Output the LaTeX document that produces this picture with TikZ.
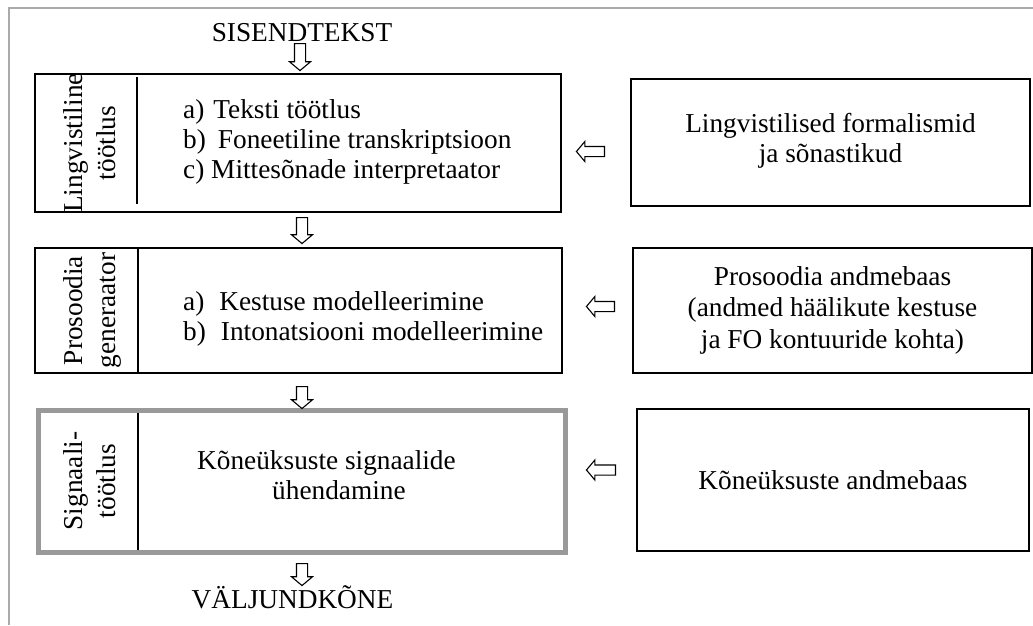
\documentclass[tikz,border=0pt]{standalone}
\usepackage{fontspec}
\setmainfont{Liberation Serif}
\usetikzlibrary{shapes.arrows}
\definecolor{framegray}{RGB}{170,170,170}
\definecolor{boxgray}{RGB}{153,153,153}
\begin{document}
\begin{tikzpicture}[x=1pt,y=-1pt,
  txt/.style={font=\fontsize{27.3}{30}\selectfont, inner sep=0pt},
  lab/.style={font=\fontsize{27.3}{33}\selectfont, inner sep=0pt, rotate=90, align=center},
  blk/.style={draw=black, line width=1.7pt, rectangle, inner sep=0pt, anchor=center},
  divline/.style={draw=black, line width=1.5pt},
  darr/.style={single arrow, draw=black, line width=1.1pt, fill=white, inner sep=5pt,
    single arrow head extend=5pt, single arrow tip angle=100, shape border rotate=270, anchor=tail},
  larr/.style={single arrow, draw=black, line width=1.1pt, fill=white, inner sep=4.5pt,
    single arrow head extend=5pt, single arrow tip angle=100, shape border rotate=180, anchor=tail}
]
\useasboundingbox (0,0) rectangle (1033,625);
% outer frame (top and left edges only)
\draw[framegray, line width=1.6pt] (9,625) -- (9,8) -- (1033,8);

% left boxes
\node[blk, minimum width=526pt, minimum height=138pt] (b1) at (298,143) {};
\node[blk, minimum width=527pt, minimum height=125pt] (b2) at (298.5,310.5) {};
\node[blk, draw=boxgray, line width=5pt, minimum width=527.5pt, minimum height=142pt] (b3) at (301.75,481.5) {};

% dividers
\coordinate (d1t) at (137,77);  \coordinate (d1b) at (137,204);
\coordinate (d2t) at (138,248); \coordinate (d2b) at (138,374);
\coordinate (d3t) at (138,413); \coordinate (d3b) at (138,550);
\draw[divline] (d1t) -- (d1b);
\draw[divline] (d2t) -- (d2b);
\draw[divline] (d3t) -- (d3b);

% rotated labels
\node[lab] (lab1) at (89.2,143) {Lingvistiline\\töötlus};
\node[lab] (lab2) at (92,310.5) {Prosoodia\\generaator};
\node[lab] (lab3) at (89.2,481) {Signaali-\\töötlus};

% main texts (anchored at the baseline of their last line)
\node[txt, align=left, anchor=base west] (t1) at (183,178)
  {a)\hspace{9pt}Teksti töötlus\\b)\hspace{12pt}Foneetiline transkriptsioon\\c) Mittesõnade interpretaator};
\node[txt, align=left, anchor=base west] (t2) at (183,340)
  {a)\hspace{15pt}Kestuse modelleerimine\\b)\hspace{15pt}Intonatsiooni modelleerimine};
\node[txt, align=left, anchor=base west] (t3) at (197,499)
  {Kõneüksuste signaalide\\\hspace*{75pt}ühendamine};

% right boxes
\node[blk, minimum width=399pt, minimum height=127pt] (r1) at (830.5,142.5) {};
\node[blk, minimum width=399pt, minimum height=125pt] (r2) at (832.5,310.5) {};
\node[blk, minimum width=392pt, minimum height=142pt] (r3) at (833,480) {};
\node[txt, align=center] (r1t) at ([yshift=2pt]r1.center) {Lingvistilised formalismid\\ja sõnastikud};
\node[txt, align=center, font=\fontsize{27.3}{31.5}\selectfont] (r2t) at ([yshift=0.5pt]r2.center)
  {Prosoodia andmebaas\\(andmed häälikute kestuse\\ja FO kontuuride kohta)};
\node[txt] (r3t) at (r3.center) {Kõneüksuste andmebaas};

% input / output
\node[txt, anchor=base] (in) at (302,41) {SISENDTEKST};
\node[txt, anchor=base] (out) at (292.5,608) {VÄLJUNDKÕNE};

% down arrows
\node[darr, minimum height=27pt] (a0) at (300,43) {};
\node[darr, minimum height=26pt] (a1) at (302,217) {};
\node[darr, minimum height=22pt] (a2) at (302,386) {};
\node[darr, minimum height=22pt] (a3) at (302,563) {};

% left arrows
\node[larr, minimum height=28pt] (l1) at (605,151.5) {};
\node[larr, minimum height=28pt] (l2) at (615,306.5) {};
\node[larr, minimum height=29pt] (l3) at (616,470) {};
\end{tikzpicture}
\end{document}
